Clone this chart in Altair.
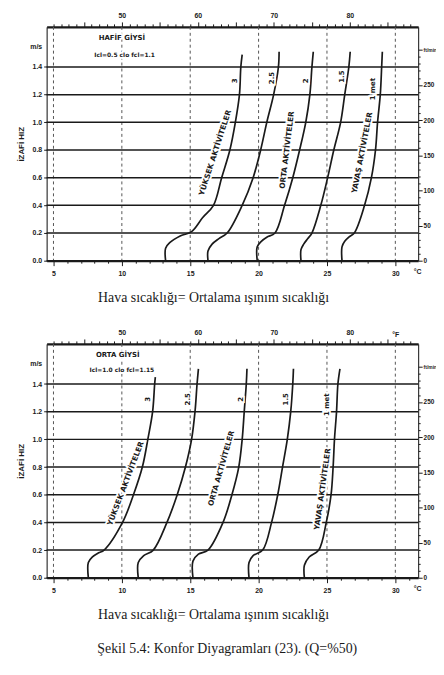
import altair as alt
import pandas as pd

# ---------------- data ----------------
C_GRID = [5, 10, 15, 20, 25, 30]                       # dashed verticals (°C)
V_LINES = [0.0, 0.2, 0.4, 0.6, 0.8, 1.0, 1.2, 1.4]     # solid horizontals (m/s)
C_TICKS = list(range(5, 32))                            # bottom axis ticks (°C)
F_TICKS = list(range(41, 89))                           # top axis ticks (°F)
FT_TICKS = list(range(0, 310, 10))                      # right axis ticks (ft/min)
ACTIVITY = ["3", "2.5", "2", "1.5", "1 met"]

# top panel: light clothing (Icl = 0.5 clo)
TOP_3_T = [13.2, 13.2, 13.5, 14.3, 15.1, 15.9, 16.7, 17.3, 17.9, 18.3, 18.6, 18.7, 18.8]
TOP_3_V = [0.0, 0.09, 0.13, 0.18, 0.21, 0.31, 0.40, 0.60, 0.80, 1.00, 1.20, 1.40, 1.49]
TOP_25_T = [16.3, 16.3, 16.6, 17.1, 17.7, 18.8, 19.6, 20.15, 20.6, 21.1, 21.45, 21.5]
TOP_25_V = [0.0, 0.07, 0.12, 0.16, 0.20, 0.40, 0.60, 0.80, 1.00, 1.20, 1.40, 1.51]
TOP_2_T = [19.9, 19.9, 20.2, 20.6, 21.2, 21.9, 22.5, 23.0, 23.45, 23.75, 23.9, 24.0]
TOP_2_V = [0.0, 0.10, 0.14, 0.17, 0.20, 0.40, 0.60, 0.80, 1.00, 1.20, 1.40, 1.51]
TOP_15_T = [23.1, 23.1, 23.3, 23.6, 23.9, 24.55, 25.05, 25.5, 26.0, 26.3, 26.6, 26.7]
TOP_15_V = [0.0, 0.08, 0.12, 0.16, 0.20, 0.40, 0.60, 0.80, 1.00, 1.20, 1.40, 1.51]
TOP_1_T = [26.1, 26.1, 26.3, 26.6, 27.0, 27.75, 28.25, 28.55, 28.7, 28.9, 29.0, 29.05]
TOP_1_V = [0.0, 0.10, 0.14, 0.17, 0.20, 0.40, 0.60, 0.80, 1.00, 1.20, 1.40, 1.51]

# bottom panel: medium clothing (Icl = 1.0 clo)
BOT_3_T = [7.55, 7.55, 7.85, 8.3, 8.7, 10.05, 10.85, 11.5, 11.9, 12.25, 12.4, 12.45]
BOT_3_V = [0.0, 0.11, 0.15, 0.18, 0.20, 0.40, 0.60, 0.80, 1.00, 1.20, 1.40, 1.45]
BOT_25_T = [11.2, 11.2, 11.6, 12.3, 13.3, 14.05, 14.65, 15.1, 15.35, 15.5, 15.6]
BOT_25_V = [0.0, 0.11, 0.16, 0.20, 0.40, 0.60, 0.80, 1.00, 1.20, 1.40, 1.51]
BOT_2_T = [15.2, 15.2, 15.6, 16.3, 17.4, 18.05, 18.55, 18.8, 18.95, 19.1, 19.15]
BOT_2_V = [0.0, 0.12, 0.17, 0.20, 0.40, 0.60, 0.80, 1.00, 1.20, 1.40, 1.51]
BOT_15_T = [19.3, 19.3, 19.6, 20.3, 20.95, 21.4, 21.75, 22.1, 22.35, 22.5, 22.55]
BOT_15_V = [0.0, 0.11, 0.16, 0.20, 0.40, 0.60, 0.80, 1.00, 1.20, 1.40, 1.51]
BOT_1_T = [23.35, 23.35, 23.7, 24.4, 24.95, 25.3, 25.45, 25.55, 25.7, 25.8, 25.95]
BOT_1_V = [0.0, 0.09, 0.15, 0.20, 0.40, 0.60, 0.80, 1.00, 1.20, 1.40, 1.51]

TOP_TEXT = ["HAFİF GİYSİ", "Icl=0.5 clo   fcl=1.1", "YÜKSEK AKTİVİTELER", "ORTA AKTİVİTELER",
            "YAVAŞ AKTİVİTELER"] + ACTIVITY
TOP_TEXT_T = [10.0, 10.2, 16.85, 22.1, 27.6, 18.3, 20.95, 23.45, 26.1, 28.4]
TOP_TEXT_V = [1.61, 1.49, 0.78, 0.80, 0.78, 1.30, 1.32, 1.30, 1.33, 1.24]
TOP_TEXT_A = [0, 0, 288, 277, 281, 270, 270, 270, 270, 270]

BOT_TEXT = ["ORTA GİYSİ", "Icl=1.0 clo   fcl=1.15", "YÜKSEK AKTİVİTELER", "ORTA AKTİVİTELER",
            "YAVAŞ AKTİVİTELER"] + ACTIVITY
BOT_TEXT_T = [9.7, 10.0, 10.3, 17.3, 24.7, 11.95, 14.85, 18.75, 22.0, 25.0]
BOT_TEXT_V = [1.61, 1.50, 0.68, 0.79, 0.64, 1.29, 1.29, 1.29, 1.29, 1.25]
BOT_TEXT_A = [0, 0, 291, 286, 278, 270, 270, 270, 270, 270]

TEXT_SIZE = [7, 6, 7.5, 7.5, 7.5, 7, 7, 7, 7, 7]

X_TITLE = "Hava sıcaklığı= Ortalama ışınım sıcaklığı"
CAPTION = "Şekil 5.4:  Konfor Diyagramları (23). (Q=%50)"

# ---------------- chart ----------------
INK = "#1a1a1a"
LFONT = "Liberation Sans"
XS = alt.Scale(domain=[4.5, 31.67], nice=False, zero=False)
YS = alt.Scale(domain=[0, 1.69], nice=False, zero=False)


def panel(curves_T, curves_V, texts, tT, tV, tA, f_unit):
    rows = []
    for name, Ts, Vs in zip(ACTIVITY, curves_T, curves_V):
        for i, (t, v) in enumerate(zip(Ts, Vs)):
            rows.append({"curve": name, "i": i, "T": t, "v": v})
    curve_df = pd.DataFrame(rows)
    text_df = pd.DataFrame({"T": tT, "v": tV, "s": texts, "a": tA, "fs": TEXT_SIZE})

    fexpr = "round(datum.value*1.8+32)"
    top_label = f"({fexpr} % 10 === 0) ? ''+{fexpr} : " + (
        f"({fexpr} === 86 ? '°F' : '')" if f_unit else "''")
    top_axis = alt.Axis(
        orient="top", values=[(f - 32) * 5 / 9 for f in F_TICKS], labelExpr=top_label,
        tickSize={"condition": {"test": f"{fexpr} % 5 === 0", "value": 5}, "value": 3},
        labelFont=LFONT, labelFontWeight="bold", labelFontSize=7, labelColor=INK,
        labelPadding=3, labelOverlap=False, labelFlush=False, domainWidth=2.2,
        domainColor=INK, tickColor=INK, title=None, grid=False)
    bottom_axis = alt.Axis(
        orient="bottom", values=C_TICKS + [31.6],
        labelExpr="datum.value > 31.5 ? '°C' : (datum.value % 5 === 0 ? datum.label : '')",
        tickSize={"condition": {"test": "datum.value % 5 === 0", "value": 5}, "value": 2.5},
        tickOpacity={"condition": {"test": "datum.value > 31.5", "value": 0}, "value": 1},
        labelFont=LFONT, labelFontWeight="bold", labelFontSize=7, labelColor=INK,
        labelPadding=4, labelOverlap=False, labelFlush=False, domainWidth=2.2,
        domainColor=INK, tickColor=INK, grid=False,
        title=X_TITLE, titleFont="Liberation Serif", titleFontSize=14,
        titleFontWeight="normal", titleColor=INK, titlePadding=14, titleX=168)
    left_axis = alt.Axis(
        orient="left", values=V_LINES + [1.55],
        labelExpr="datum.value > 1.5 ? 'm/s' : format(datum.value, '.1f')",
        tickOpacity={"condition": {"test": "datum.value > 1.5", "value": 0}, "value": 1},
        tickSize=3, labelFont=LFONT, labelFontWeight="bold", labelFontSize=7,
        labelColor=INK, labelPadding=2, labelOverlap=False, labelFlush=False,
        domainColor=INK, tickColor=INK, grid=False,
        title="İZAFİ HIZ", titleFont=LFONT, titleFontWeight="bold", titleFontSize=8,
        titleColor=INK, titlePadding=4)
    ftexpr = "round(datum.value*196.85)"
    right_axis = alt.Axis(
        orient="right", values=[f / 196.85 for f in FT_TICKS],
        labelExpr=f"{ftexpr} % 50 === 0 ? ({ftexpr} >= 300 ? 'ft/min' : ''+{ftexpr}) : ''",
        tickSize={"condition": {"test": f"{ftexpr} % 50 === 0", "value": 4}, "value": 2},
        labelFontSize={"condition": {"test": f"{ftexpr} >= 300", "value": 5}, "value": 6.5},
        labelFont=LFONT, labelFontWeight="bold", labelColor=INK,
        labelPadding=1, labelOverlap=False, labelFlush=False,
        domainColor=INK, tickColor=INK, grid=False, title=None)

    vgrid = alt.Chart(pd.DataFrame({"T": C_GRID})).mark_rule(
        color="#555", strokeWidth=1, strokeDash=[3, 3]
    ).encode(x=alt.X("T:Q", scale=XS, axis=top_axis))
    hgrid = alt.Chart(pd.DataFrame({"v": V_LINES})).mark_rule(
        color=INK, strokeWidth=1.5
    ).encode(y=alt.Y("v:Q", scale=YS, axis=left_axis))
    lines = alt.Chart(curve_df).mark_line(
        color=INK, strokeWidth=1.7, interpolate="catmull-rom"
    ).encode(
        x=alt.X("T:Q", scale=XS, axis=bottom_axis),
        y=alt.Y("v:Q", scale=YS, axis=None),
        detail="curve:N", order="i:Q")
    text_base = alt.Chart(text_df).encode(
        x=alt.X("T:Q", scale=XS, axis=None),
        text="s:N",
        angle=alt.Angle("a:Q", scale=None),
        size=alt.Size("fs:Q", scale=None))
    halo = text_base.mark_text(
        font="DejaVu Sans", fontWeight="bold", color="white", stroke="white",
        strokeWidth=3.5
    ).encode(y=alt.Y("v:Q", scale=YS, axis=None))
    text = text_base.mark_text(
        font="DejaVu Sans", fontWeight="bold", color=INK
    ).encode(y=alt.Y("v:Q", scale=YS, axis=right_axis))
    return alt.layer(vgrid, hgrid, lines, halo, text).resolve_axis(
        x="independent", y="independent").properties(width=375, height=236)


top = panel([TOP_3_T, TOP_25_T, TOP_2_T, TOP_15_T, TOP_1_T],
            [TOP_3_V, TOP_25_V, TOP_2_V, TOP_15_V, TOP_1_V],
            TOP_TEXT, TOP_TEXT_T, TOP_TEXT_V, TOP_TEXT_A, False)
bottom = panel([BOT_3_T, BOT_25_T, BOT_2_T, BOT_15_T, BOT_1_T],
               [BOT_3_V, BOT_25_V, BOT_2_V, BOT_15_V, BOT_1_V],
               BOT_TEXT, BOT_TEXT_T, BOT_TEXT_V, BOT_TEXT_A, True)

chart = alt.vconcat(top, bottom, spacing=23).properties(
    title=alt.TitleParams(text=CAPTION, orient="bottom", font="Liberation Serif",
                          fontSize=14, fontWeight="normal", color=INK, offset=20,
                          anchor="middle"),
    padding={"left": 9, "top": 0, "right": -2, "bottom": 2},
).configure_view(stroke=INK, strokeWidth=1).configure(background="white")

chart.save("out.html", embed_options={"renderer": "svg", "actions": False})
